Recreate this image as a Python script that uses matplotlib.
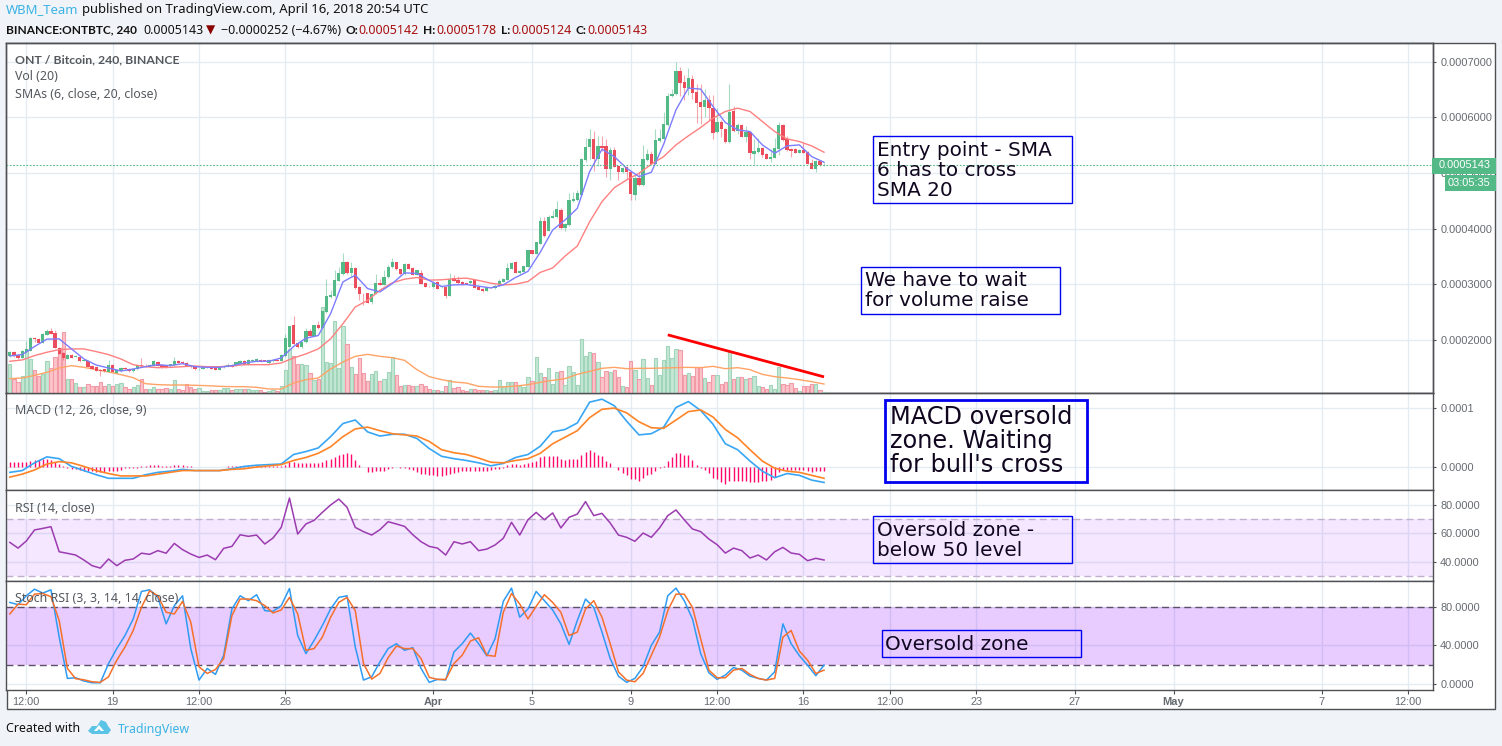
import numpy as np
import matplotlib
matplotlib.use("Agg")
import matplotlib.pyplot as plt
from matplotlib.patches import Rectangle, Polygon

# prices are in 1e-7 BTC, one value per 4h bar
opens = [1705,1789,1735,1669,1789,1807,2042,2024,1952,2096,
    2150,2126,1856,1771,1663,1729,1700,1699,1627,1627,
    1536,1506,1464,1470,1422,1554,1410,1434,1500,1482,
    1434,1470,1554,1535,1518,1530,1603,1554,1548,1530,
    1542,1621,1609,1591,1542,1524,1470,1476,1506,1524,
    1500,1458,1506,1518,1554,1530,1567,1627,1554,1615,
    1615,1639,1630,1579,1615,1639,1627,1717,1868,2259,
    1946,1868,1958,2150,2078,2259,2217,2500,2770,2783,
    3060,3180,3403,3192,3282,2945,2830,2837,2686,2831,
    3018,2988,3120,3300,3397,3270,3174,3367,3294,3168,
    3200,3030,2965,2945,3042,2955,2945,2794,3103,3079,
    3042,3015,3018,3073,2952,2915,2879,2940,2927,2970,
    3042,3079,3279,3406,3200,3218,3309,3606,3551,3727,
    4134,3960,4194,4200,4332,4014,4062,4494,4512,4602,
    5232,5466,5610,5250,5484,5484,5070,5412,5124,5016,
    5100,5016,4602,4908,4782,5232,5340,5160,5574,5610,
    5862,6372,6408,6834,6636,6528,6690,6456,6276,6186,
    6312,6168,5736,5916,5790,5556,6114,5754,5862,5646,
    5736,5340,5376,5448,5340,5250,5268,5430,5862,5610,
    5430,5430,5358,5412,5376,5178,5070,5214,5142]
closes = [1789,1717,1669,1807,1837,2042,2012,1952,2114,2150,
    2114,1850,1747,1669,1735,1681,1710,1615,1633,1518,
    1482,1446,1434,1434,1554,1422,1458,1500,1470,1434,
    1482,1542,1524,1530,1554,1615,1536,1500,1500,1566,
    1627,1591,1579,1530,1506,1470,1482,1518,1524,1476,
    1458,1518,1530,1554,1518,1597,1627,1554,1645,1645,
    1651,1609,1625,1639,1645,1621,1729,2030,2241,1928,
    1880,1964,2150,2078,2259,2205,2512,2783,2800,3072,
    3204,3397,3192,3282,2933,2819,2825,2668,2831,3024,
    2988,3132,3312,3397,3264,3174,3367,3276,3168,3252,
    3000,2958,2960,3018,2915,2962,2788,3091,3061,3018,
    3000,3005,3061,2933,2897,2873,2945,2935,2976,3061,
    3097,3297,3388,3206,3236,3321,3606,3551,3752,4134,
    3860,4200,4230,4350,4002,4086,4512,4530,4632,5250,
    5466,5610,5250,5484,5448,5070,5412,5112,5016,5088,
    5016,4620,4908,4782,5250,5340,5160,5592,5628,5880,
    6384,6420,6834,6618,6528,6708,6438,6258,6186,6312,
    6156,5724,5916,5790,5556,6096,5754,5862,5646,5736,
    5358,5394,5448,5322,5250,5286,5448,5862,5592,5412,
    5394,5358,5412,5358,5160,5070,5214,5142,5143]
highs = [1800,1800,1750,1815,1976,2050,2060,2040,2125,2190,
    2215,2180,1880,1790,1750,1740,1725,1710,1650,1635,
    1545,1515,1475,1480,1640,1565,1465,1510,1510,1490,
    1490,1555,1670,1560,1570,1630,1620,1565,1555,1575,
    1700,1635,1625,1600,1550,1535,1490,1525,1530,1530,
    1510,1530,1545,1590,1565,1610,1640,1640,1655,1660,
    1670,1650,1640,1650,1660,1650,1740,2110,2255,2421,
    1960,1975,2210,2200,2265,2330,2520,3100,2900,3260,
    3300,3566,3420,3400,3300,2960,2840,2850,2850,3190,
    3100,3260,3340,3470,3405,3280,3375,3375,3305,3260,
    3260,3040,2975,3060,3060,2975,2960,3200,3160,3150,
    3060,3030,3080,3085,2965,2925,2955,2955,2995,3100,
    3115,3380,3405,3420,3250,3335,3620,3620,3760,4210,
    4200,4240,4340,4500,4370,4100,4630,4650,4700,5260,
    5620,5780,5760,5670,5660,5600,5470,5460,5140,5100,
    5120,5030,4960,5000,5500,5420,5400,5780,5780,6100,
    6430,6500,6990,6900,6750,6880,6760,6600,6590,6500,
    6400,6400,6170,5950,5800,6600,6200,5900,5880,5850,
    5750,5600,5620,5460,5350,5420,5630,5920,5880,5660,
    5440,5440,5430,5540,5390,5250,5230,5230,5178]
lows = [1690,1690,1660,1665,1760,1800,1960,1940,1945,2090,
    2100,1845,1740,1640,1655,1675,1690,1610,1620,1510,
    1470,1440,1355,1425,1415,1415,1400,1425,1465,1430,
    1430,1465,1515,1520,1510,1525,1530,1490,1495,1525,
    1535,1585,1570,1525,1500,1465,1450,1470,1500,1470,
    1450,1452,1500,1510,1510,1525,1560,1550,1548,1610,
    1610,1603,1620,1575,1610,1615,1620,1700,1860,1900,
    1860,1860,1950,2070,2070,2195,2210,2490,2760,2770,
    3050,3170,3185,3150,2920,2710,2620,2660,2640,2820,
    2980,2980,3110,3290,3255,3170,3170,3270,3160,3160,
    3000,2950,2950,2935,2905,2940,2760,2785,3050,3010,
    2985,2995,3010,2925,2890,2865,2870,2925,2920,2960,
    3035,3070,3275,3195,3190,3210,3300,3540,3540,3720,
    3850,3950,4190,4190,3990,3960,4050,4480,4500,4590,
    5200,5240,5040,5120,5400,4930,4870,5100,4880,5000,
    4890,4510,4510,4770,4770,5220,5150,5150,5560,5600,
    5850,6360,6400,6380,6300,6390,6320,5900,5870,6000,
    5950,5610,5720,5650,5540,5530,5740,5700,5640,5560,
    5250,5150,5360,5280,5240,5200,5260,5320,5580,5400,
    5280,5350,5350,5350,5150,5060,5020,5130,5124]
volumes = [87,42,33,52,125,102,70,52,57,96,
    75,109,135,183,42,42,30,18,18,27,
    22,22,33,20,27,20,27,30,17,12,
    18,25,42,12,12,18,12,13,15,13,
    39,12,9,27,19,13,15,7,6,10,
    10,10,15,15,9,12,12,12,12,9,
    9,9,4,6,9,7,22,70,132,112,
    88,87,84,60,40,42,258,92,90,216,
    75,202,147,78,57,105,60,35,58,66,
    35,42,63,108,54,22,25,25,22,20,
    28,20,13,10,10,7,22,40,15,18,
    10,7,13,13,8,9,10,7,10,40,
    20,34,32,34,22,19,49,36,109,60,
    48,75,28,63,67,25,82,63,25,162,
    112,124,120,93,48,67,63,70,48,22,
    18,97,70,43,102,45,25,106,53,100,
    141,106,133,130,54,60,52,78,78,45,
    33,54,54,28,33,127,42,49,49,42,
    45,52,22,18,13,25,13,78,28,25,
    30,16,7,22,22,28,28,9,3]
macd_hist = [9,9,9,9,9,10,11,12,13,13,
    11,9,5,2,-1,-3,-4,-5,-6,-7,
    -7,-8,-8,-8,-7,-7,-6,-5,-2,-2,
    -1,-1,1,2,3,3,3,2,2,2,
    3,3,3,2,1,0.5,0,0,0,0,
    0,0,0.5,1,1,1,2,2,2,2,
    2,1,1,1,1,1,1,4,8,8,
    7,6,6,7,7,7,9,12,14,17,
    20,22,23,22,12,4,0,-8,-8,-7,
    -7,-6,-4,-1,0,-2,-2,-3,-5,-8,
    -11,-12,-13,-14,-15,-15,-14,-11,-10,-8,
    -7,-7,-6,-7,-7,-7,-7,-5,-4,-3,
    -1,3,5,5,4,5,7,9,10,16,
    19,19,19,19,14,12,13,13,13,21,
    26,29,25,21,19,10,6,0,-5,-10,
    -14,-20,-20,-23,-18,-14,-12,-7,-2,1,
    10,16,23,23,20,20,12,4,-1,-5,
    -10,-18,-20,-25,-28,-24,-24,-24,-23,-24,
    -25,-26,-25,-24,-23,-22,-17,-8,-5,-5,
    -5,-5,-5,-5,-7,-8,-7,-7,-7]

# smooth lines
sma6 = [1711,1735,1880,2012,2018,1837,1657,1548,1494,1440,1476,1518,1554,1536,1573,1518,1506,
    1506,1536,1585,1615,1615,1675,1880,2030,2078,2470,3041,3162,2921,2861,3011,3204,3192,
    3067,2958,2988,2994,2964,2933,2988,3121,3230,3576,3972,4152,4362,5022,5424,5292,5082,
    4932,5010,5514,6132,6522,6504,6192,5904,5772,5742,5502,5352,5484,5502,5292,5190]
sma20 = [1615,1639,1717,1777,1825,1837,1837,1789,1735,1657,1554,1518,1500,1506,1518,1530,1518,
    1518,1530,1554,1554,1554,1585,1675,1747,1837,2018,2289,2590,2710,2891,3024,3090,3120,
    3073,3079,3097,3109,3067,3018,2988,3000,3048,3212,3291,3503,3685,4122,4482,4734,4872,
    4992,5154,5292,5502,5664,5814,5982,6102,6162,6102,5922,5742,5610,5562,5484,5370]
vol_ma = [43,45,53,62,75,82,77,70,63,55,46,28,25,24,24,23,22,
    20,19,19,17,12,12,30,40,45,72,93,110,116,110,106,98,70,
    49,40,33,30,20,18,18,21,25,32,38,43,56,65,74,77,73,
    74,74,75,76,77,76,80,73,76,70,56,49,45,40,34,27]
macd_line = [-9,-6,7,17,14,1,-6,-13,-19,-19,-19,-13,-9,-7,-4,-6,-6,
    -6,-3,1,3,4,5,21,26,32,51,73,79,59,52,55,55,48,
    31,18,14,11,7,2,6,16,21,35,59,63,74,109,114,103,77,
    54,56,67,100,110,95,72,39,29,10,-7,-18,-11,-14,-22,-26]
macd_signal = [-17,-12,-5,5,9,7,1,-6,-11,-15,-15,-15,-12,-9,-6,-6,-6,
    -6,-4,-3,0,2,4,11,16,23,34,51,64,67,61,56,54,52,
    43,29,24,21,15,8,7,11,14,23,39,50,61,83,97,99,91,
    76,66,65,79,93,96,84,63,49,29,10,-2,-7,-9,-14,-19]

# oscillators
rsi = [53.6,49.6,54.6,62.4,63.5,64.7,47,45.9,44.7,41.2,37.2,35.5,41.9,37.2,41,41.9,46,45.2,47.8,46,
    52.9,48.5,45.4,43,44.7,41.4,49.4,50.8,59,57.9,58.8,52.5,56.7,64.2,84.9,59.5,66.6,69.2,74.8,80,
    84.2,78.4,64.2,61.2,58.8,62.6,68.2,66.6,64.9,59,54.1,
    50.8,49.6,44.7,54.1,52.5,54.1,47.8,48.9,51.8,56.5,67.8,58.8,69.6,74.8,69.6,74.4,63.8,71.3,73.6,
    82.4,72.5,74.1,67.3,58.8,57.2,54.4,60.2,57.2,63.8,72.5,76.5,69.6,63.1,61.2,56,52,46.1,49.6,47.8,
    42.6,44.7,41.2,47,50.1,46.1,45.2,40.7,42.4,41.2]
stoch_k = [84.8,82.4,91.7,98.6,94.5,97.9,48.6,5.5,6.2,2.8,1,1,21,36.6,50.3,67.6,96.2,97.9,90,62.4,
    81.4,91.7,36.6,3.8,15.9,9.7,29.7,77.9,91.7,86.6,92.8,76.2,75.5,81.4,99.3,50.3,31.4,45.2,60.7,77.9,
    90,91.7,38.3,3.8,7.2,22.8,36.6,41.7,34.8,37.6,15.9,
    1.4,4.5,3.8,33.1,41.7,52.8,41.7,29,46.9,85.9,99.7,69.3,77.9,96.2,86.6,76.9,62.4,41,65.9,
    88.3,79.7,53.8,26.2,7.9,1.4,5.5,17.6,40,53.8,91.7,99.7,86.6,67.6,31.4,11.4,4.5,9,16.9,14.1,
    7.9,5.5,3.8,12.4,62.4,41.7,29.3,19.3,8.3,19.3]
stoch_d = [72.8,83,82.4,93.4,94.1,90.7,65.9,15.9,5.2,4.1,2,1.4,7.2,24.5,38.3,55.5,79.7,96.9,91.7,74.5,
    72.8,85.9,64.1,17.6,10.7,14.8,26.2,71,88.3,88.3,86.6,81.4,73.8,76.9,90,72.8,34.8,36.6,48.6,69.3,
    84.8,90,76.2,21,4.8,10.7,27.2,39.3,36.6,36.6,26.2,
    6.6,4.5,4.5,21,29.7,44.5,47.9,29.7,28.6,74.5,94.1,83.1,67.6,80.7,92.8,84.8,74.5,50.3,53.8,
    77.9,86.6,69.3,41.7,12.4,3.8,2,10.7,29.7,48.6,76.2,93.4,93.4,79.7,46.9,14.1,6.2,6.2,14.1,15.9,
    9.7,5.5,3.8,5.5,48.6,55.5,34.1,24.5,10.7,14.1]

time_ticks = [4, 25, 46, 67, 103, 127, 151, 172, 193, 214, 235, 259, 283, 319, 340]
time_labels = ["12:00", "19", "12:00", "26", "Apr", "5", "9", "12:00", "16", "12:00", "23", "27", "May", "7", "12:00"]
trend_x = [160, 198]
trend_y = [2090, 1335]
last_price = 5143

W, H = 1502, 746
PX = 0.72  # points per pixel at dpi 100
BAR_PX = 4.112
FIRST_BAR = 9.85
LEFT, RIGHT = 6.5, 1433
FRAME = "#4f5054"
GRID = "#e3ecf3"
GREY = "#666a70"
UP, DOWN = "#53b987", "#eb4d5c"
SANS = "Noto Sans"
BOLD = "Lato"
AXIS_FONT = "Liberation Sans"
bars = np.arange(len(closes))
every3 = np.arange(0, len(closes), 3)
every2 = np.arange(0, len(closes), 2)

fig = plt.figure(figsize=(W / 100, H / 100), dpi=100, facecolor="#f0f3f7")


def px_axes(top, bottom, ymax, ymin):
    ax = fig.add_axes([LEFT / W, 1 - bottom / H, (RIGHT - LEFT) / W, (bottom - top) / H])
    ax.set_xlim((LEFT - FIRST_BAR) / BAR_PX, (RIGHT - FIRST_BAR) / BAR_PX)
    ax.set_ylim(ymin, ymax)
    for s in ax.spines.values():
        s.set_color(FRAME)
        s.set_linewidth(1.0)
    ax.yaxis.tick_right()
    ax.set_xticks(time_ticks)
    ax.tick_params(axis="x", length=0, labelbottom=False)
    ax.tick_params(axis="y", length=3 * PX, width=0.8, color=FRAME, pad=3, labelcolor=GREY, labelsize=11 * PX)
    ax.grid(True, color=GRID, lw=1.0)
    ax.set_axisbelow(True)
    return ax


# white chart card behind everything
bg = fig.add_axes([0, 0, 1, 1], zorder=-5)
bg.set_xlim(0, W)
bg.set_ylim(H, 0)
bg.axis("off")
bg.add_patch(Rectangle((LEFT, 43), 1495 - LEFT, 666, fc="white", ec=FRAME, lw=1.0))

# main panel with volume behind the candles
price_px = 1000 / 55.67
ax_vol = px_axes(43, 393, 7000 + 18.5 * price_px, 7000 - 331.5 * price_px)
ax_price = ax_vol.twinx()
ax_volbars = ax_vol.twinx()
ax_vol.yaxis.tick_right()
ax_vol.set_yticks([2000, 3000, 4000, 5000, 6000, 7000])
ax_vol.set_yticklabels([f"{v * 1e-7:.7f}" for v in [2000, 3000, 4000, 5000, 6000, 7000]], family=AXIS_FONT)
ax_price.set_ylim(ax_vol.get_ylim())
ax_price.yaxis.set_visible(False)
ax_price.patch.set_visible(False)
for s in ax_price.spines.values():
    s.set_color(FRAME)
    s.set_linewidth(1.0)
ax_volbars.set_ylim(0, 1050)
ax_volbars.yaxis.set_visible(False)
for s in ax_volbars.spines.values():
    s.set_visible(False)
ax_volbars.set_zorder(ax_vol.get_zorder() + 1)
ax_price.set_zorder(ax_vol.get_zorder() + 2)

is_up = np.array(closes) >= np.array(opens)
vol_fill = np.where(is_up, "#c6e6d6", "#fcc4cb")
vol_edge = np.where(is_up, "#a0d5ba", "#f29aa6")
ax_volbars.bar(bars, volumes, width=0.8, color=vol_fill, edgecolor=vol_edge, lw=0.8)
ax_volbars.plot(every3, vol_ma, color="#ffa366", lw=1.0)

colors = np.where(is_up, UP, DOWN)
ax_price.vlines(bars, lows, highs, colors=colors, lw=0.8, alpha=0.5)
ax_price.bar(bars, np.abs(np.array(closes) - np.array(opens)),
             bottom=np.minimum(opens, closes), width=0.8, color=colors, lw=0)
ax_price.plot(every3, sma20, color="#ff8080", lw=1.0)
ax_price.plot(every3, sma6, color="#7d7dff", lw=1.0)
ax_price.axhline(last_price, color=UP, lw=0.8, ls=(0, (1.5, 1.5)))
ax_price.plot(trend_x, trend_y, color="#ff0000", lw=2.0, solid_capstyle="butt")

# MACD
macd_px = 0.595
ax_macd = px_axes(393, 490, 100 + 14.5 / macd_px, -23 / macd_px)
ax_macd.set_yticks([0, 100])
ax_macd.set_yticklabels(["0.0000", "0.0001"], family=AXIS_FONT)
ax_macd.vlines(bars, 0, macd_hist, colors="#ff0a6c", lw=1.0)
ax_macd.plot(every3, macd_line, color="#38a6f4", lw=1.2)
ax_macd.plot(every3, macd_signal, color="#ff8427", lw=1.2)

# RSI
rsi_px = 1.4175
ax_rsi = px_axes(490, 581, 80 + 15 / rsi_px, 40 - 19.3 / rsi_px)
ax_rsi.set_yticks([40, 60, 80])
ax_rsi.set_yticklabels(["40.0000", "60.0000", "80.0000"], family=AXIS_FONT)
ax_rsi.axhspan(30, 70, color="#9915ff", alpha=0.1, lw=0)
for lvl in (30, 70):
    ax_rsi.axhline(lvl, color="#c1afcb", lw=1.0, ls=(0, (5, 3)))
ax_rsi.plot(every2, rsi, color="#9c3bb0", lw=1.1)

# Stoch RSI
stoch_px = 0.959
ax_stoch = px_axes(581, 690, 80 + 26 / stoch_px, -6.3 / stoch_px)
ax_stoch.set_yticks([0, 40, 80])
ax_stoch.set_yticklabels(["0.0000", "40.0000", "80.0000"], family=AXIS_FONT)
ax_stoch.axhspan(20, 80, color="#9915ff", alpha=0.22, lw=0)
for lvl in (20, 80):
    ax_stoch.axhline(lvl, color="#5f5068", lw=1.0, ls=(0, (5, 3)))
ax_stoch.plot(every2, stoch_k, color="#2f9bf2", lw=1.1)
ax_stoch.plot(every2, stoch_d, color="#f5702a", lw=1.1)
ax_stoch.tick_params(axis="x", labelbottom=True, length=4 * PX, width=0.8, color=FRAME,
                     pad=2, labelcolor=GREY, labelsize=11 * PX)
ax_stoch.set_xticklabels(time_labels, family=AXIS_FONT)
for lab in ax_stoch.get_xticklabels():
    if lab.get_text() in ("Apr", "May"):
        lab.set_fontweight("bold")

# everything drawn in page pixels goes on top
top = fig.add_axes([0, 0, 1, 1], zorder=10)
top.set_xlim(0, W)
top.set_ylim(H, 0)
top.axis("off")
top.patch.set_visible(False)


def txt(x, y, s, size=12.4, color="#111111", weight="normal", family=SANS, **kw):
    top.text(x, y, s, fontsize=size * PX, color=color, fontweight=weight, family=family,
             va="center", ha=kw.pop("ha", "left"), **kw)


# header
txt(6, 10, "WBM_Team", color="#3bb3e4", size=13.1)
txt(82, 10, "published on TradingView.com, April 16, 2018 20:54 UTC", size=13.1)
txt(6, 30, "BINANCE:ONTBTC, 240", weight="bold", family=BOLD, size=11.9)
txt(143, 30, "0.0005143")
txt(206, 30, "▼", color="#8b0000", family="DejaVu Sans", size=12)
txt(221, 30, "−0.0000252 (−4.67%)")
for x_lab, x_val, lab, val in [(345, 358, "O:", "0.0005142"), (423, 436, "H:", "0.0005178"),
                               (501, 511, "L:", "0.0005124"), (576, 587, "C:", "0.0005143")]:
    txt(x_lab, 30, lab, weight="bold", family=BOLD, size=11.9)
    txt(x_val, 30, val, color="#a80f0f")

# legends
txt(15, 60, "ONT / Bitcoin, 240, BINANCE", color="#55585d", weight="bold", family=BOLD, size=12.2)
txt(15, 77, "Vol (20)", color="#55585d")
txt(15, 94, "SMAs (6, close, 20, close)", color="#55585d")
txt(15, 411, "MACD (12, 26, close, 9)", color="#55585d")
txt(15, 508, "RSI (14, close)", color="#55585d")
txt(15, 599, "Stoch RSI (3, 3, 14, 14, close)", color="#55585d")

# price and countdown tags
top.add_patch(Rectangle((1432, 158), 64, 15.5, fc=UP, lw=0))
top.add_patch(Rectangle((1445, 175), 51, 16, fc=UP, lw=0))
txt(1439, 165.5, "0.0005143", size=11, color="white", family=AXIS_FONT)
txt(1448, 183, "03:05:35", size=11, color="white", family=AXIS_FONT)

# drawn notes
NOTE = "DejaVu Sans"
notes = [
    ((873, 136, 199, 67), 1.0, 877, ["Entry point - SMA", "6 has to cross", "SMA 20"], [150, 170, 191], 20),
    ((861, 267, 199, 47), 1.0, 865, ["We have to wait", "for volume raise"], [281, 301], 20),
    ((885, 400, 202, 82), 2.0, 890, ["MACD oversold", "zone. Waiting", "for bull's cross"], [417, 441, 465], 24),
    ((873, 516, 199, 47), 1.0, 877, ["Oversold zone -", "below 50 level"], [530, 550], 20),
    ((882, 630, 199, 27), 1.0, 885, ["Oversold zone"], [644], 20),
]
for (bx, by, bw, bh), lw, tx, lines, ys, size in notes:
    top.add_patch(Rectangle((bx, by), bw, bh, fc="none", ec="#0000f0", lw=lw))
    for line, ty in zip(lines, ys):
        txt(tx, ty, line, size=size, color="#10061f", family=NOTE)

# footer
txt(6, 729, "Created with", size=12.4)
top.add_patch(Polygon([(88, 731), (92, 726), (97, 726), (101, 720), (106, 722), (108, 726), (111, 730),
                       (108, 734), (92, 734)], fc="#5bc3e6", lw=0))
top.add_patch(Polygon([(94, 731), (99, 725), (104, 731), (101, 731), (99, 729), (97, 731)], fc="white", lw=0))
txt(118, 729, "TradingView", color="#3bb3e4", size=12.4)

fig.savefig("out.png", dpi=100, facecolor=fig.get_facecolor())
